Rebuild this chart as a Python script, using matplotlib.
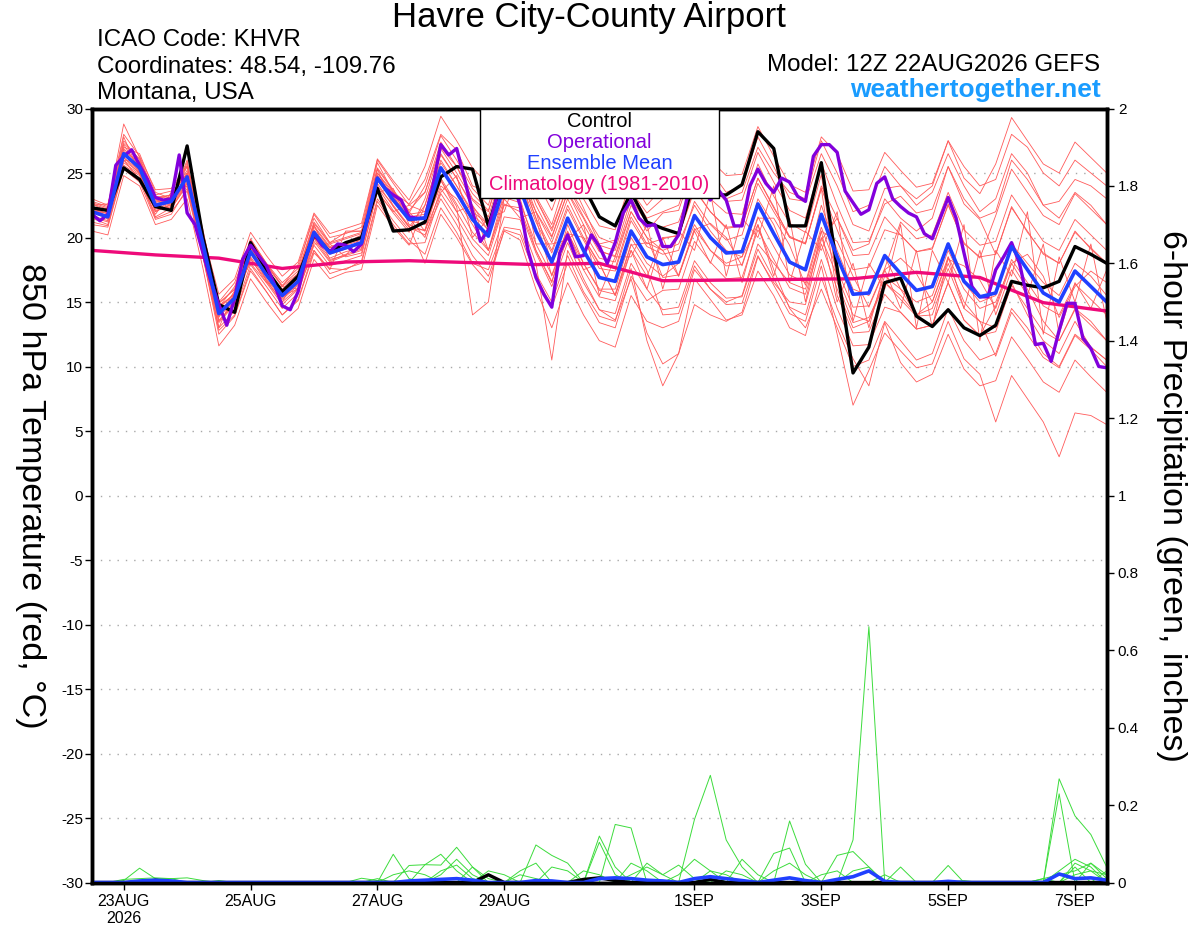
import numpy as np
import pandas as pd
import matplotlib
matplotlib.use("Agg")
import matplotlib.pyplot as plt
from matplotlib.patches import Rectangle

plt.rcParams['font.family'] = ['Liberation Sans', 'DejaVu Sans']
plt.rcParams['axes.unicode_minus'] = False

# ---- data: GEFS 12Z 22AUG2026, 6-hourly (members) / 3-hourly (operational) ----
times = pd.date_range('2026-08-22 12:00', periods=65, freq='6h')
times_op = pd.date_range('2026-08-22 12:00', periods=129, freq='3h')
times_clim = pd.date_range('2026-08-22 12:00', periods=17, freq='1D')

control = [22.3, 22.1, 25.4, 24.5, 22.4, 22.1, 27.1, 20.0, 14.8, 14.2,
           19.6, 17.5, 15.8, 17.0, 20.2, 18.9, 19.6, 20.0, 23.8, 20.5,
           20.6, 21.2, 24.7, 25.5, 25.3, 20.9, 25.0, 25.0, 24.5, 22.9,
           24.5, 24.0, 21.6, 20.9, 23.5, 21.2, 20.7, 20.3, 24.5, 23.3,
           23.3, 24.1, 28.2, 26.9, 20.9, 20.9, 25.8, 17.6, 9.5, 11.5,
           16.5, 16.85, 13.9, 13.1, 14.4, 13.0, 12.4, 13.2, 16.6, 16.3,
           16.1, 16.6, 19.3, 18.7, 18.0]

operational = [21.8, 21.3, 21.8, 25.6, 26.3, 26.8, 25.6, 24.5, 23.1, 22.9,
               23.0, 26.4, 21.9, 21.0, 18.8, 16.6, 14.8, 13.2, 15.3, 18.3,
               19.4, 18.6, 17.8, 16.4, 14.7, 14.4, 15.8, 18.5, 20.3, 19.4,
               18.9, 19.5, 19.4, 18.9, 19.5, 22.1, 24.6, 23.8, 23.3, 22.9,
               21.6, 21.5, 21.5, 24.0, 27.2, 26.4, 26.9, 24.5, 22.0, 19.7,
               20.6, 23.0, 24.5, 24.5, 22.5, 19.0, 16.9, 15.6, 14.6, 18.8,
               20.2, 18.5, 18.6, 20.2, 19.3, 18.0, 19.6, 21.9, 22.9, 21.5,
               20.9, 21.0, 19.3, 19.3, 20.2, 22.9, 24.2, 24.0, 22.9, 23.7,
               22.9, 20.9, 20.9, 24.0, 25.3, 24.2, 23.5, 24.6, 24.3, 23.2,
               22.8, 26.3, 27.2, 27.2, 26.6, 23.6, 22.7, 21.8, 22.15, 24.2,
               24.7, 23.0, 22.4, 21.9, 21.6, 20.3, 19.9, 21.5, 23.1, 21.5,
               18.8, 16.2, 15.4, 15.4, 17.5, 18.5, 19.6, 18.0, 15.2, 11.7,
               11.8, 10.4, 12.8, 14.9, 14.9, 12.2, 11.4, 10.0, 9.9]

ens_mean = [22.0, 21.6, 26.5, 25.4, 22.5, 22.8, 24.7, 19.5, 14.1, 15.3,
            18.9, 17.1, 15.5, 16.6, 20.4, 18.8, 19.2, 19.6, 24.6, 22.9,
            21.4, 21.5, 25.4, 23.5, 21.4, 20.1, 24.0, 23.8, 20.5, 18.1,
            21.5, 19.0, 16.9, 16.6, 20.5, 18.5, 17.9, 18.1, 21.7, 20.0,
            18.8, 18.9, 22.6, 20.3, 18.1, 17.5, 21.8, 18.5, 15.6, 15.7,
            18.6, 17.2, 15.9, 16.2, 19.5, 16.6, 15.4, 15.7, 19.3, 17.5,
            15.7, 15.0, 17.4, 16.2, 15.0]

climatology = [19.0, 18.65, 18.4, 17.6, 18.1, 18.2, 18.05, 17.9, 18.0,
               16.65, 16.7, 16.75, 16.8, 17.3, 16.9, 14.95, 14.3]

members = [
    [22.4, 22.0, 27.5, 26.0, 23.2, 23.0, 25.5, 20.3, 15.0, 16.5,
     19.8, 18.0, 16.2, 17.9, 21.5, 19.6, 20.4, 20.5, 25.8, 23.5,
     22.6, 24.5, 28.0, 26.8, 24.0, 23.5, 27.0, 26.5, 23.2, 21.0,
     24.9, 22.3, 19.5, 19.8, 23.6, 21.9, 23.0, 23.3, 26.5, 25.2,
     23.5, 24.0, 27.8, 25.5, 23.0, 22.8, 26.5, 24.0, 21.0, 20.5,
     23.8, 24.0, 22.5, 23.5, 26.5, 24.0, 22.0, 23.0, 26.5, 25.0,
     22.5, 22.8, 24.5, 24.0, 23.0],
    [21.5, 21.0, 25.6, 24.8, 21.6, 22.3, 24.0, 18.5, 12.5, 13.9,
     17.4, 15.8, 14.0, 15.1, 18.8, 17.6, 17.5, 18.2, 23.0, 21.3,
     19.8, 18.7, 22.3, 20.4, 18.0, 17.5, 20.8, 20.6, 17.2, 15.0,
     18.6, 15.8, 13.9, 13.5, 17.6, 12.0, 8.5, 11.0, 16.8, 15.2,
     13.6, 14.0, 17.4, 15.5, 13.0, 12.4, 16.9, 13.5, 10.6, 8.5,
     13.4, 10.3, 8.8, 9.4, 12.5, 9.8, 8.5, 8.9, 12.3, 10.6,
     8.8, 8.0, 10.5, 9.2, 8.0],
    [23.0, 22.5, 28.0, 26.3, 23.7, 23.8, 25.6, 20.6, 14.7, 15.6,
     19.5, 17.5, 16.0, 17.2, 20.9, 19.3, 19.6, 20.2, 25.0, 23.5,
     21.9, 24.0, 27.9, 26.0, 23.8, 22.5, 26.6, 26.2, 23.0, 20.7,
     24.0, 21.6, 19.4, 19.0, 23.0, 21.1, 20.8, 21.2, 24.6, 23.0,
     21.9, 21.8, 25.7, 23.2, 21.1, 20.4, 24.9, 16.5, 13.4, 13.8,
     16.5, 15.2, 13.9, 14.0, 17.6, 14.5, 13.5, 10.8, 14.2, 12.5,
     10.7, 9.9, 12.4, 11.3, 10.0],
    [21.0, 20.8, 25.3, 24.3, 21.4, 21.8, 23.8, 18.6, 13.6, 14.8,
     18.3, 16.7, 15.0, 16.1, 19.9, 18.2, 18.7, 19.1, 24.0, 22.5,
     20.9, 18.0, 21.8, 20.0, 17.9, 16.5, 20.6, 20.2, 17.0, 14.6,
     18.0, 15.6, 13.4, 13.0, 17.0, 15.1, 15.9, 16.0, 19.7, 18.1,
     16.8, 16.9, 20.6, 18.3, 16.1, 15.6, 19.8, 21.5, 18.6, 18.7,
     21.6, 20.2, 18.9, 19.2, 22.5, 19.6, 18.4, 21.7, 25.3, 23.5,
     21.7, 21.0, 23.4, 22.2, 21.0],
    [22.3, 21.4, 26.0, 25.8, 23.0, 22.2, 24.2, 19.0, 13.8, 15.9,
     19.4, 16.6, 15.0, 17.2, 21.0, 18.3, 18.6, 20.1, 25.3, 22.4,
     20.8, 22.5, 26.4, 24.6, 22.5, 19.0, 23.0, 24.8, 21.5, 17.0,
     20.3, 20.0, 18.0, 15.5, 19.4, 19.6, 19.0, 17.0, 20.6, 21.1,
     20.0, 17.8, 21.5, 21.5, 19.4, 16.3, 20.5, 19.7, 17.0, 14.6,
     17.5, 18.4, 17.2, 15.0, 18.3, 17.8, 16.7, 14.5, 18.0, 18.7,
     17.0, 13.8, 16.2, 17.4, 16.5],
    [20.5, 20.2, 24.8, 24.0, 21.0, 21.4, 23.0, 17.6, 11.6, 13.2,
     16.8, 15.0, 13.4, 14.5, 18.3, 16.8, 17.3, 17.5, 22.5, 20.8,
     19.4, 22.5, 26.5, 24.6, 22.4, 21.0, 25.0, 24.9, 21.5, 19.0,
     22.5, 20.0, 17.9, 17.6, 21.6, 19.5, 19.9, 20.2, 23.8, 22.0,
     20.7, 20.9, 24.6, 22.4, 20.0, 19.6, 23.8, 20.6, 17.5, 17.7,
     20.6, 20.2, 18.9, 19.1, 22.6, 19.5, 18.5, 18.7, 22.4, 20.4,
     18.8, 18.0, 20.5, 19.1, 18.0],
    [22.3, 21.8, 26.9, 25.6, 22.7, 23.2, 25.0, 20.2, 14.9, 16.0,
     19.8, 17.9, 16.3, 17.4, 21.2, 19.6, 20.0, 20.4, 25.4, 23.7,
     22.0, 20.5, 24.4, 22.4, 14.0, 15.0, 23.1, 22.7, 19.5, 17.1,
     20.4, 18.0, 15.9, 15.6, 19.5, 17.5, 14.0, 14.1, 17.8, 16.0,
     14.8, 14.9, 18.6, 16.3, 14.1, 13.5, 17.8, 12.5, 7.0, 9.7,
     12.6, 11.2, 9.9, 10.2, 13.5, 10.6, 9.4, 5.7, 9.3, 7.5,
     5.7, 3.0, 6.4, 6.2, 5.5],
    [22.8, 22.4, 28.8, 26.2, 23.3, 23.6, 25.5, 20.3, 15.6, 16.8,
     20.4, 18.6, 17.0, 18.1, 21.9, 20.3, 20.7, 21.1, 26.1, 24.4,
     22.9, 25.5, 29.4, 27.5, 25.4, 24.1, 28.0, 27.8, 24.5, 22.1,
     25.5, 23.0, 20.9, 20.6, 24.5, 22.5, 23.9, 24.1, 27.7, 26.0,
     24.8, 24.9, 28.6, 26.3, 24.1, 23.5, 27.8, 26.5, 23.6, 23.7,
     26.6, 25.2, 23.9, 24.2, 27.5, 24.6, 23.4, 25.7, 29.3, 27.5,
     25.7, 25.0, 27.4, 26.2, 25.0],
    [21.8, 22.3, 26.0, 24.5, 21.8, 23.5, 24.0, 18.8, 13.0, 15.8,
     18.0, 16.5, 16.2, 16.0, 19.5, 19.5, 18.5, 18.8, 23.5, 23.8,
     21.0, 20.5, 23.5, 24.8, 20.0, 21.5, 22.0, 25.5, 19.5, 19.5,
     19.8, 21.0, 15.5, 18.5, 18.5, 21.0, 16.0, 20.5, 19.0, 23.5,
     17.0, 21.5, 20.0, 24.0, 16.5, 20.5, 19.0, 22.0, 13.5, 18.0,
     16.0, 21.0, 13.0, 19.0, 16.5, 21.0, 12.0, 19.0, 17.0, 22.0,
     12.5, 18.5, 15.0, 19.5, 13.5],
    [21.7, 21.3, 26.2, 25.0, 22.0, 22.6, 24.4, 19.8, 14.6, 15.6,
     19.0, 17.5, 15.9, 16.9, 20.5, 19.2, 19.5, 19.9, 24.8, 23.2,
     21.5, 20.0, 23.8, 22.0, 19.9, 18.6, 22.5, 22.3, 19.0, 16.6,
     20.0, 17.5, 15.4, 15.1, 19.0, 17.0, 20.0, 20.1, 23.7, 22.0,
     20.8, 20.9, 24.6, 22.3, 20.1, 19.5, 23.8, 15.5, 12.6, 12.7,
     15.6, 14.2, 12.9, 13.2, 16.5, 13.6, 12.4, 12.7, 16.3, 14.5,
     12.7, 12.0, 14.4, 13.2, 12.0],
    [22.0, 21.9, 26.8, 25.0, 22.8, 22.5, 25.0, 19.0, 13.0, 14.3,
     17.9, 16.2, 14.5, 15.7, 19.4, 17.8, 18.2, 18.6, 23.6, 21.9,
     20.4, 23.0, 26.9, 25.0, 22.9, 21.6, 25.5, 25.3, 22.0, 19.6,
     23.0, 20.5, 18.4, 18.1, 22.0, 20.0, 16.9, 17.1, 20.7, 19.0,
     17.8, 17.9, 21.6, 19.3, 17.1, 16.5, 20.8, 17.5, 14.6, 14.7,
     17.6, 21.2, 19.9, 20.2, 23.5, 20.6, 19.4, 19.7, 23.3, 21.5,
     19.7, 19.0, 21.4, 20.2, 19.0],
    [22.6, 22.2, 27.8, 25.0, 22.0, 22.9, 26.0, 19.2, 13.5, 15.0,
     19.5, 17.8, 15.5, 16.0, 19.0, 17.5, 20.5, 20.5, 23.5, 22.0,
     22.5, 22.0, 24.5, 22.0, 22.5, 20.5, 23.0, 21.5, 22.0, 18.0,
     20.5, 17.5, 18.0, 15.5, 19.0, 16.0, 20.0, 17.0, 20.5, 18.0,
     21.0, 16.5, 21.0, 17.0, 21.5, 15.0, 20.5, 15.0, 18.0, 13.0,
     17.5, 14.5, 19.0, 13.0, 18.5, 14.5, 19.0, 14.0, 17.5, 15.5,
     19.5, 12.5, 16.5, 14.5, 17.5],
    [21.2, 20.9, 25.5, 24.6, 21.5, 22.0, 23.6, 18.5, 12.8, 14.0,
     17.6, 15.8, 14.0, 15.2, 19.0, 17.2, 17.6, 18.0, 22.8, 21.0,
     19.5, 19.6, 23.4, 21.5, 19.4, 18.0, 21.6, 21.4, 18.0, 10.5,
     19.0, 16.5, 14.4, 14.1, 18.0, 16.0, 14.4, 14.6, 18.2, 16.5,
     15.3, 15.4, 19.1, 16.8, 14.6, 14.0, 18.3, 14.5, 11.6, 11.7,
     14.6, 14.2, 12.9, 13.2, 16.5, 13.6, 12.4, 14.7, 18.3, 16.5,
     14.7, 14.0, 16.4, 15.2, 14.0],
    [22.5, 22.6, 27.0, 26.5, 23.5, 23.0, 25.8, 20.0, 14.6, 16.2,
     19.9, 18.0, 16.5, 17.6, 21.8, 20.0, 20.3, 20.8, 26.0, 24.2,
     22.5, 23.5, 27.4, 25.5, 23.4, 22.1, 26.0, 25.8, 22.5, 20.1,
     23.5, 21.0, 18.9, 18.6, 22.5, 20.5, 21.9, 22.1, 25.7, 24.0,
     22.8, 22.9, 26.6, 24.3, 22.1, 21.5, 25.8, 22.5, 19.6, 19.7,
     22.6, 23.2, 21.9, 22.2, 25.5, 22.6, 21.4, 18.7, 22.3, 20.5,
     18.7, 18.0, 20.4, 19.2, 18.0],
    [21.9, 21.5, 26.2, 25.2, 22.2, 22.5, 24.3, 19.2, 13.9, 15.0,
     18.5, 16.8, 15.2, 16.3, 20.0, 18.4, 18.9, 19.2, 24.2, 22.4,
     20.8, 20.2, 23.0, 21.0, 18.6, 17.0, 20.5, 19.8, 16.0, 13.0,
     16.5, 14.0, 12.0, 11.5, 15.5, 13.5, 13.0, 13.5, 17.5, 16.0,
     15.0, 15.5, 19.5, 18.0, 16.5, 16.0, 20.0, 17.0, 14.0, 13.5,
     17.0, 16.0, 15.0, 15.5, 19.0, 16.5, 15.0, 15.5, 19.5, 18.0,
     16.5, 15.5, 18.0, 17.0, 15.5],
    [22.6, 22.0, 26.0, 25.0, 23.0, 23.3, 25.0, 19.9, 14.5, 15.7,
     19.2, 17.3, 15.8, 17.0, 20.8, 19.2, 19.6, 20.0, 25.0, 23.3,
     21.8, 22.0, 26.0, 24.0, 22.0, 21.0, 25.0, 24.5, 22.0, 20.0,
     23.5, 21.5, 19.0, 18.5, 22.0, 20.0, 19.0, 19.5, 22.5, 20.5,
     19.0, 18.5, 21.0, 17.5, 14.5, 13.0, 16.0, 13.0, 10.0, 10.5,
     13.5, 12.0, 10.5, 11.0, 14.5, 12.0, 10.5, 11.0, 14.5, 13.0,
     11.0, 10.0, 12.5, 11.5, 10.5],
    [22.1, 21.7, 26.6, 25.9, 22.9, 22.6, 24.9, 19.6, 14.3, 15.5,
     19.1, 17.2, 15.7, 16.8, 20.6, 19.0, 19.4, 19.8, 24.8, 23.1,
     21.6, 21.8, 25.8, 24.0, 21.8, 20.6, 24.6, 24.4, 21.2, 18.8,
     22.2, 19.8, 17.6, 17.4, 21.3, 19.3, 18.7, 19.0, 22.8, 21.0,
     19.8, 20.2, 24.2, 22.0, 20.0, 19.5, 24.0, 21.5, 19.0, 19.5,
     23.0, 21.5, 20.5, 21.5, 25.5, 23.0, 21.5, 22.0, 26.0, 24.5,
     22.5, 21.5, 23.5, 22.5, 21.0],
    [21.6, 21.2, 25.8, 24.9, 22.1, 22.4, 24.2, 18.9, 13.4, 14.8,
     18.4, 16.5, 14.8, 16.0, 19.7, 18.1, 18.6, 19.0, 23.9, 22.1,
     20.6, 20.6, 24.6, 22.6, 20.4, 19.0, 22.6, 22.0, 18.8, 16.2,
     19.6, 16.8, 14.4, 13.6, 16.8, 12.6, 10.2, 11.0, 14.8, 14.0,
     13.5, 14.2, 18.5, 16.5, 15.0, 14.8, 19.5, 16.0, 13.0, 13.5,
     16.5, 15.5, 14.0, 15.0, 18.5, 16.0, 14.5, 15.0, 18.0, 16.0,
     13.5, 12.0, 14.5, 13.5, 12.0],
    [22.2, 21.9, 27.2, 25.3, 22.3, 22.9, 24.8, 19.7, 14.2, 15.2,
     18.8, 17.0, 15.3, 16.4, 20.3, 18.7, 19.1, 19.5, 24.5, 22.8,
     21.3, 21.0, 24.0, 23.0, 21.0, 19.0, 23.5, 23.0, 19.0, 16.5,
     21.0, 18.0, 16.0, 16.0, 20.0, 18.0, 17.0, 18.0, 21.0, 19.0,
     18.0, 18.5, 23.0, 21.0, 18.0, 17.5, 22.5, 19.0, 16.0, 15.5,
     18.5, 16.0, 14.0, 14.5, 18.0, 15.0, 13.5, 13.0, 16.5, 14.0,
     12.0, 11.0, 13.5, 11.5, 10.5],
    [22.7, 22.3, 27.3, 26.1, 23.1, 23.3, 25.2, 20.1, 14.9, 16.0,
     19.7, 17.8, 16.2, 17.2, 21.1, 19.5, 19.9, 20.3, 25.3, 23.6,
     22.1, 23.5, 27.0, 25.5, 23.0, 22.0, 26.0, 26.0, 23.0, 20.5,
     24.0, 22.0, 20.0, 19.5, 23.5, 21.5, 22.0, 22.5, 26.0, 24.0,
     23.0, 23.5, 27.0, 25.0, 23.5, 23.0, 27.5, 25.0, 22.0, 22.5,
     25.5, 24.0, 23.0, 24.0, 27.5, 25.5, 24.0, 24.5, 28.0, 27.0,
     25.0, 24.0, 26.0, 25.0, 24.0],
]

# 6-hour precipitation (inches), forecast hour -> value, zero elsewhere
precip_members = [
    {12: 0.005, 18: 0.037, 24: 0.01, 30: 0.01, 36: 0.012, 42: 0.005, 114: 0.073,
     120: 0.01, 228: 0.163, 234: 0.277, 240: 0.11, 246: 0.04, 366: 0.268,
     372: 0.172, 378: 0.124, 384: 0.04},
    {126: 0.046, 132: 0.045, 138: 0.091, 144: 0.04, 192: 0.104, 198: 0.02,
     288: 0.11, 294: 0.661, 306: 0.04},
    {120: 0.044, 126: 0.046, 132: 0.073, 138: 0.03, 168: 0.097, 174: 0.07,
     180: 0.05, 198: 0.15, 204: 0.141, 258: 0.075, 264: 0.089, 366: 0.229,
     378: 0.05, 384: 0.02},
    {102: 0.011, 108: 0.005, 132: 0.03, 138: 0.045, 144: 0.01, 162: 0.03,
     168: 0.05, 210: 0.05, 216: 0.02, 222: 0.045, 228: 0.01, 264: 0.159,
     270: 0.047, 324: 0.044, 360: 0.01, 366: 0.02, 372: 0.03, 378: 0.05, 384: 0.01},
    {12: 0.008, 18: 0.01, 24: 0.012, 30: 0.01, 144: 0.04, 150: 0.01, 192: 0.12,
     198: 0.04, 240: 0.03, 246: 0.02, 282: 0.07, 288: 0.08, 294: 0.04,
     360: 0.01, 372: 0.05, 378: 0.03},
    {132: 0.02, 138: 0.06, 144: 0.02, 204: 0.02, 210: 0.04, 216: 0.02, 234: 0.03,
     240: 0.02, 258: 0.03, 264: 0.05, 270: 0.02, 288: 0.03, 294: 0.04,
     372: 0.02, 378: 0.03, 384: 0.02},
    {48: 0.005, 108: 0.01, 162: 0.02, 168: 0.01, 186: 0.03, 192: 0.02, 222: 0.02,
     228: 0.06, 234: 0.03, 276: 0.02, 282: 0.03, 330: 0.005, 366: 0.03,
     372: 0.06, 378: 0.04},
    {114: 0.02, 120: 0.03, 126: 0.02, 150: 0.03, 156: 0.02, 174: 0.04, 180: 0.03,
     204: 0.05, 210: 0.03, 246: 0.06, 252: 0.02, 300: 0.02, 372: 0.04, 384: 0.03},
]
precip_mean = {18: 0.004, 24: 0.006, 30: 0.004, 120: 0.004, 126: 0.006, 132: 0.008,
               138: 0.01, 144: 0.006, 168: 0.005, 174: 0.004, 192: 0.01, 198: 0.012,
               204: 0.01, 210: 0.006, 216: 0.004, 228: 0.01, 234: 0.015, 240: 0.01,
               246: 0.005, 258: 0.006, 264: 0.012, 270: 0.005, 282: 0.008, 288: 0.015,
               294: 0.03, 300: 0.003, 324: 0.003, 366: 0.022, 372: 0.01, 378: 0.012,
               384: 0.006}
precip_control = {24: 0.006, 150: 0.02, 186: 0.008, 192: 0.012, 198: 0.005, 234: 0.008}

tick_dates = ['2026-08-23', '2026-08-25', '2026-08-27', '2026-08-29',
              '2026-09-01', '2026-09-03', '2026-09-05', '2026-09-07']
tick_labels = ['23AUG\n2026', '25AUG', '27AUG', '29AUG', '1SEP', '3SEP', '5SEP', '7SEP']

legend_labels = ['Control', 'Operational', 'Ensemble Mean', 'Climatology (1981-2010)']
legend_colors = ['black', '#8200dc', '#2040ff', '#ee0a7a']

hours = np.arange(0, 390, 6)


def to_series(d):
    return np.array([d.get(h, 0.0) for h in hours])


fig = plt.figure(figsize=(12, 9.27), dpi=100)
ax = fig.add_axes([92 / 1200, 1 - 882.5 / 927, 1014.7 / 1200, 774 / 927])

for m in members:
    ax.plot(times, m, color='#ff5a5a', lw=0.6)
ax.plot(times_clim, climatology, color='#ee0a7a', lw=2.4)
ax.plot(times, control, color='black', lw=2.4)
ax.plot(times_op, operational, color='#8200dc', lw=2.4)
ax.plot(times, ens_mean, color='#2040ff', lw=2.6)

ax.set_ylim(-30, 30)
ax.set_yticks(np.arange(-30, 31, 5))
ax.set_xlim(times[0], times[-1])
ax.set_xticks(pd.to_datetime(tick_dates).to_pydatetime())
ax.set_xticklabels(tick_labels)
ax.grid(axis='y', linestyle=(0, (1, 5)), color='#a8a8a8', lw=1)
ax.tick_params(axis='y', direction='out', length=5, width=1, labelsize=11, pad=1.5)
ax.tick_params(axis='x', direction='out', length=5, width=1, labelsize=11.5, pad=3)

ax2 = ax.twinx()
for d in precip_members:
    ax2.plot(times, to_series(d), color='#3cdc3c', lw=0.7)
ax2.plot(times, to_series(precip_control), color='black', lw=2.4)
ax2.plot(times, to_series(precip_mean), color='#2040ff', lw=2.6)
ax2.set_ylim(0, 2)
ax2.set_yticks(np.arange(0, 2.01, 0.2))
ax2.set_yticklabels([f'{v:g}' for v in np.round(np.arange(0, 2.01, 0.2), 1)])
ax2.tick_params(axis='y', direction='out', length=5, width=1, labelsize=11, pad=3)

for a in (ax, ax2):
    for s in a.spines.values():
        s.set_linewidth(2.5)

# legend box: white frame at the top centre of the plot, coloured text lines
box_l, box_r, box_b = (480 - 92) / 1014.7, (719 - 92) / 1014.7, (882.5 - 198) / 774
ax2.add_patch(Rectangle((box_l, box_b), box_r - box_l, 1 - box_b, transform=ax2.transAxes,
                        facecolor='white', edgecolor='black', lw=1, zorder=10))
for k, (lab, col) in enumerate(zip(legend_labels, legend_colors)):
    ax2.text(0.5, (882.5 - (121 + 21.3 * k)) / 774, lab, color=col, fontsize=14.5,
             ha='center', va='center', transform=ax2.transAxes, zorder=11)

fig.text(0.491, 1 - 26.7 / 927, 'Havre City-County Airport', fontsize=25,
         ha='center', va='baseline')
fig.text(97 / 1200, 1 - 45.7 / 927, 'ICAO Code: KHVR', fontsize=17.4, va='baseline')
fig.text(97 / 1200, 1 - 72.7 / 927, 'Coordinates: 48.54, -109.76', fontsize=17.4, va='baseline')
fig.text(97 / 1200, 1 - 99.3 / 927, 'Montana, USA', fontsize=17.4, va='baseline')
fig.text(1100 / 1200, 1 - 71 / 927, 'Model: 12Z 22AUG2026 GEFS', fontsize=17.4,
         ha='right', va='baseline')
fig.text(1101 / 1200, 1 - 96.7 / 927, 'weathertogether.net', fontsize=19,
         fontweight='bold', color='#1a9cff', ha='right', va='baseline')
fig.text(30 / 1200, 1 - 496 / 927, '850 hPa Temperature (red, °C)', fontsize=24.5,
         rotation=270, ha='center', va='center')
fig.text(1172 / 1200, 1 - 496 / 927, '6-hour Precipitation (green, inches)', fontsize=24.5,
         rotation=270, ha='center', va='center')

fig.savefig('out.png', dpi=100)
